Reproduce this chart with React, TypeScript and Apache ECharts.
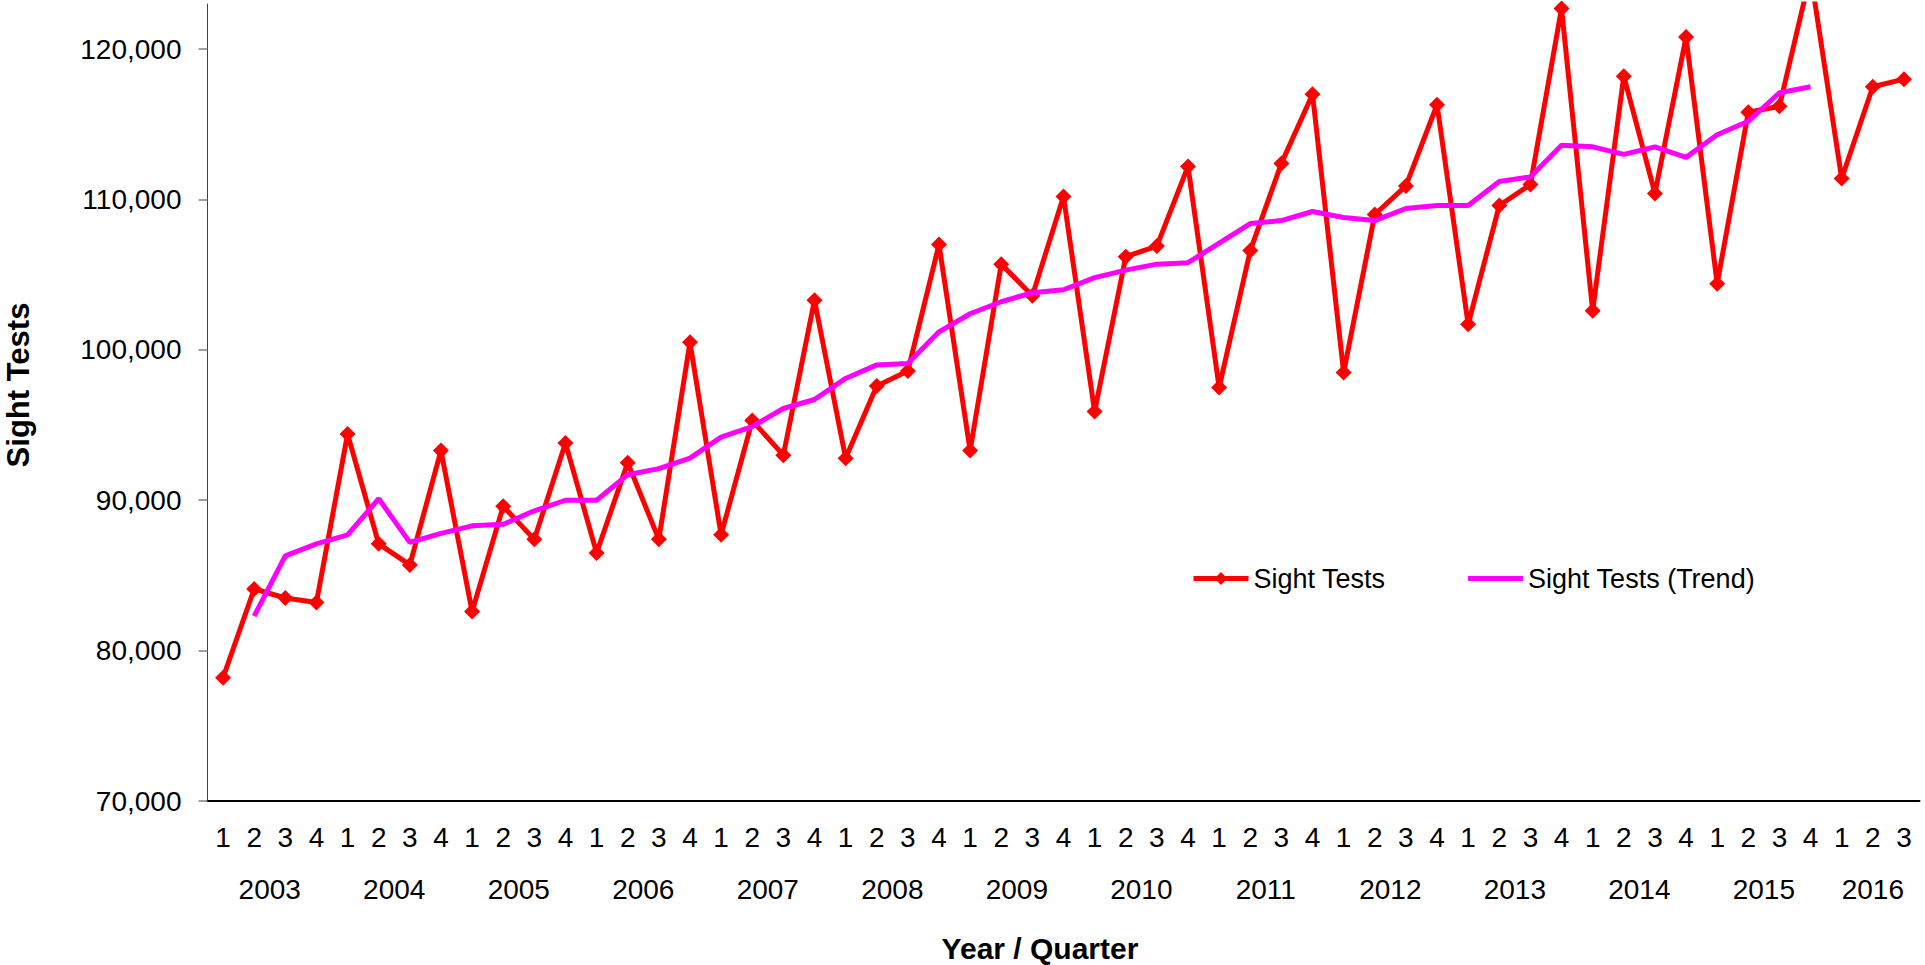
import React, { useEffect, useRef } from "react";
import * as echarts from "echarts";

// ---- data ----
const years = ["2003", "2004", "2005", "2006", "2007", "2008", "2009", "2010", "2011", "2012", "2013", "2014", "2015", "2016"];
const quarterNames = ["1", "2", "3", "4"];
const quartersPerYear = [4, 4, 4, 4, 4, 4, 4, 4, 4, 4, 4, 4, 4, 3];

const sightTests = [
  78200, 84100, 83500, 83200,
  94400, 87100, 85700, 93300,
  82600, 89600, 87400, 93800,
  86500, 92500, 87400, 100500,
  87700, 95300, 93000, 103300,
  92800, 97600, 98600, 107000,
  93300, 105700, 103600, 110200,
  95900, 106200, 106900, 112200,
  97500, 106600, 112400, 117000,
  98500, 109000, 110900, 116300,
  101700, 109600, 111000, 122700,
  102600, 118200, 110400, 120800,
  104400, 115800, 116200, 125000,
  111400, 117500, 118000,
];

const sightTestsTrend: (number | null)[] = [
  null, 82300, 86300, 87100,
  87700, 90100, 87200, 87800,
  88300, 88400, 89300, 90000,
  90000, 91700, 92100, 92800,
  94200, 94900, 96100, 96700,
  98100, 99000, 99100, 101200,
  102400, 103200, 103800, 104000,
  104800, 105300, 105700, 105800,
  107100, 108400, 108600, 109200,
  108800, 108600, 109400, 109600,
  109600, 111200, 111500, 113600,
  113500, 113000, 113500, 112800,
  114300, 115200, 117100, 117500,
  null, null, null,
];

const yTicks = [70000, 80000, 90000, 100000, 110000, 120000];
const yMin = 70000;
const yMax = 123000;

const seriesNames = ["Sight Tests", "Sight Tests (Trend)"];
const yAxisTitle = "Sight Tests";
const xAxisTitle = "Year / Quarter";

const RED = "#FF0000";
const MAGENTA = "#FF00FF";
const FONT = "'Liberation Sans', Arial, Helvetica, sans-serif";

export default function App() {
  const ref = useRef<HTMLDivElement>(null);

  useEffect(() => {
    if (!ref.current) return;
    const chart = echarts.init(ref.current, undefined, { renderer: "svg" });

    const categories: string[] = [];
    const yearCenters: number[] = [];
    let start = 0;
    years.forEach((y, i) => {
      const n = quartersPerYear[i];
      quarterNames.slice(0, n).forEach((q) => categories.push(`${y} Q${q}`));
      yearCenters.push(start + n / 2);
      start += n;
    });

    chart.setOption({
      animation: false,
      backgroundColor: "#ffffff",
      grid: { left: 207.5, right: 5.5, top: 4, bottom: 164, containLabel: false },
      legend: {
        data: [
          { name: seriesNames[0], lineStyle: { width: 5, color: RED } },
          { name: seriesNames[1], itemStyle: { opacity: 0 }, lineStyle: { width: 5, color: MAGENTA } },
        ],
        left: 1186,
        top: 560,
        padding: 5,
        itemWidth: 55,
        itemHeight: 16,
        itemGap: 80,
        textStyle: { fontSize: 27, color: "#000", fontFamily: FONT },
      },
      xAxis: [
        {
          type: "category",
          data: categories,
          boundaryGap: true,
          axisLine: { show: true, lineStyle: { color: "#000", width: 2 } },
          axisTick: { show: false },
          splitLine: { show: false },
          axisLabel: {
            interval: 0,
            margin: 22,
            fontSize: 28,
            color: "#000",
            fontFamily: FONT,
            formatter: (v: string) => v.split(" Q")[1],
          },
        },
        {
          type: "value",
          position: "bottom",
          min: 0,
          max: categories.length,
          axisLine: { show: false },
          axisTick: { show: false },
          splitLine: { show: false },
          axisLabel: {
            customValues: yearCenters,
            margin: 74,
            fontSize: 28,
            color: "#000",
            fontFamily: FONT,
            formatter: (v: number) => {
              const idx = yearCenters.indexOf(v);
              return idx >= 0 ? years[idx] : "";
            },
          },
        },
      ],
      yAxis: {
        type: "value",
        min: yMin,
        max: yMax,
        interval: 10000,
        axisLine: { show: true, lineStyle: { color: "#404040", width: 1 } },
        axisTick: { show: true, length: 9, customValues: yTicks, lineStyle: { color: "#808080", width: 1.5 } },
        splitLine: { show: false },
        axisLabel: {
          customValues: yTicks,
          margin: 26,
          fontSize: 28,
          color: "#000",
          fontFamily: FONT,
          formatter: (v: number) => v.toLocaleString("en-US"),
        },
      },
      graphic: [
        {
          type: "text",
          x: 18,
          y: 385,
          rotation: Math.PI / 2,
          style: {
            text: yAxisTitle,
            fontSize: 31,
            fontWeight: "bold",
            fontFamily: FONT,
            fill: "#000",
            align: "center",
            verticalAlign: "middle",
          },
        },
        {
          type: "text",
          x: 1040,
          y: 948,
          style: {
            text: xAxisTitle,
            fontSize: 30,
            fontWeight: "bold",
            fontFamily: FONT,
            fill: "#000",
            align: "center",
            verticalAlign: "middle",
          },
        },
      ],
      series: [
        {
          name: seriesNames[0],
          type: "line",
          xAxisIndex: 0,
          yAxisIndex: 0,
          data: sightTests,
          symbol: "diamond",
          symbolSize: 16,
          clip: true,
          lineStyle: { color: RED, width: 5 },
          itemStyle: { color: RED },
          z: 2,
        },
        {
          name: seriesNames[1],
          type: "line",
          xAxisIndex: 0,
          yAxisIndex: 0,
          data: sightTestsTrend,
          symbol: "none",
          showSymbol: false,
          clip: true,
          connectNulls: false,
          lineStyle: { color: MAGENTA, width: 5 },
          itemStyle: { color: MAGENTA },
          z: 3,
        },
      ],
    });

    return () => chart.dispose();
  }, []);

  return (
    <div
      ref={ref}
      style={{ position: "fixed", left: 0, top: 0, width: 1925, height: 965, background: "#fff" }}
    />
  );
}
